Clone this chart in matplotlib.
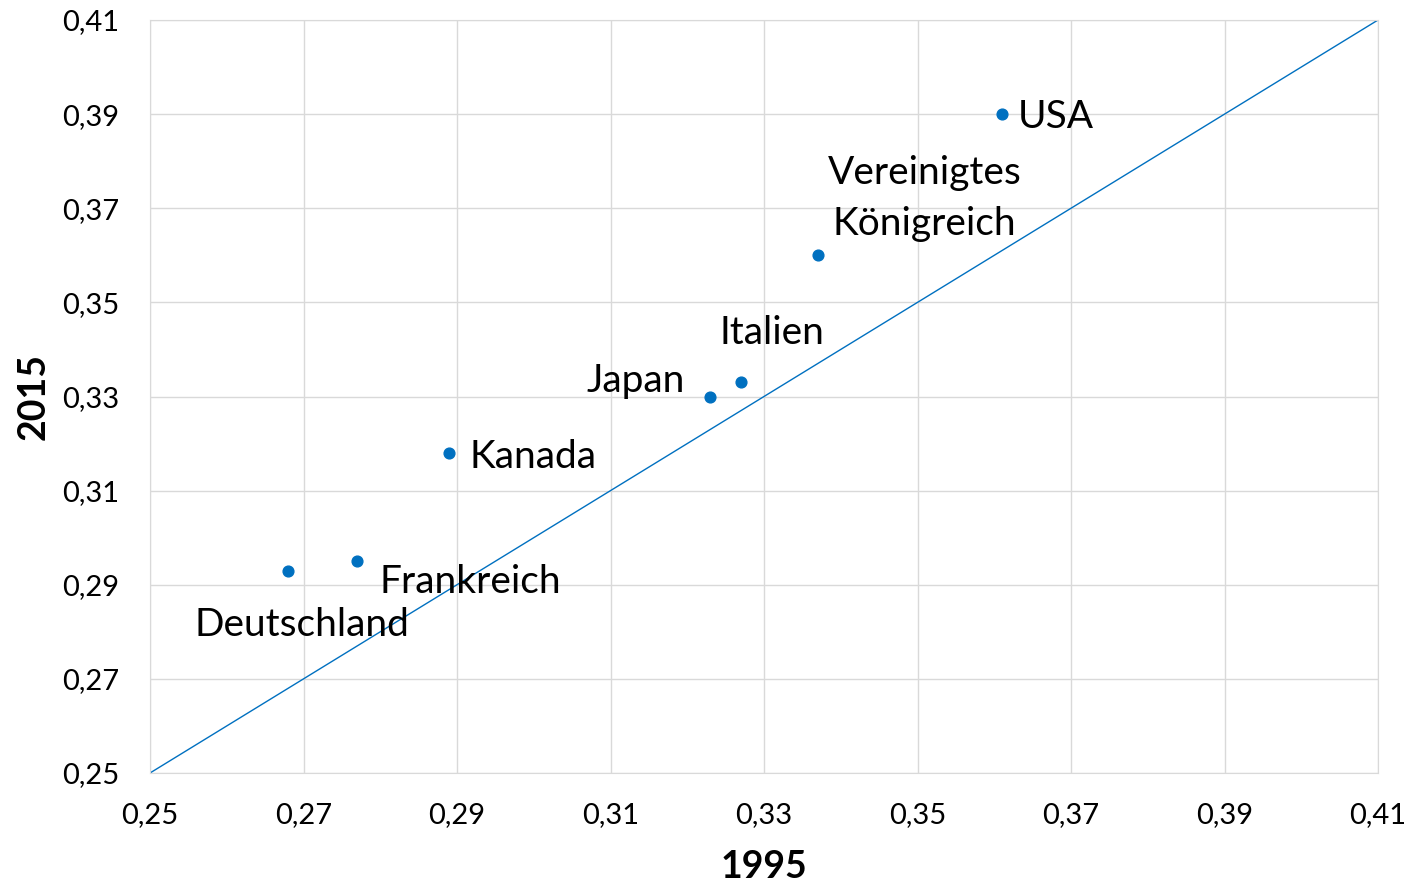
import numpy as np
import matplotlib.pyplot as plt

plt.rcParams['font.family'] = ['Lato', 'DejaVu Sans']

countries = ["USA", "Vereinigtes\nKönigreich", "Italien", "Japan", "Kanada", "Frankreich", "Deutschland"]
y1995 = [0.361, 0.337, 0.327, 0.323, 0.289, 0.277, 0.268]
y2015 = [0.390, 0.360, 0.333, 0.330, 0.318, 0.295, 0.293]

# label offsets in pixels and alignment
offsets = [(16, -3, "left"), (107, 57, "center"), (31, 49, "center"), (-25, 16, "right"),
           (20, -4, "left"), (22, -21, "left"), (14, -54, "center")]

ticks = np.arange(0.25, 0.4101, 0.02)
tick_labels = [f"{t:.2f}".replace(".", ",") for t in ticks]

fig = plt.figure(figsize=(14.13, 8.86), dpi=100)
ax = fig.add_axes([150/1413, 1-773/886, 1228/1413, 753/886])

ax.plot([0.25, 0.41], [0.25, 0.41], color="#0070C0", lw=1, zorder=2)
ax.scatter(y1995, y2015, s=60, color="#0070C0", zorder=3)

for name, x, y, (dx, dy, ha) in zip(countries, y1995, y2015, offsets):
    ax.annotate(name, (x, y), xytext=(dx*0.72, dy*0.72), textcoords="offset points",
                ha=ha, va="center", fontsize=28, linespacing=1.5)

ax.set_xlim(0.25, 0.41)
ax.set_ylim(0.25, 0.41)
ax.set_xticks(ticks)
ax.set_xticklabels(tick_labels)
ax.set_yticks(ticks)
ax.set_yticklabels(tick_labels)
ax.tick_params(length=0, labelsize=21)
ax.tick_params(axis="x", pad=21)
ax.tick_params(axis="y", pad=22)
ax.grid(True, color="#D9D9D9", lw=1, zorder=0)
ax.set_axisbelow(True)
for s in ax.spines.values():
    s.set_color("#D9D9D9")

ax.set_xlabel("1995", fontsize=27, fontweight="bold", labelpad=16)
ax.set_ylabel("2015", fontsize=27, fontweight="bold", labelpad=8)

fig.savefig("out.png", dpi=100)
